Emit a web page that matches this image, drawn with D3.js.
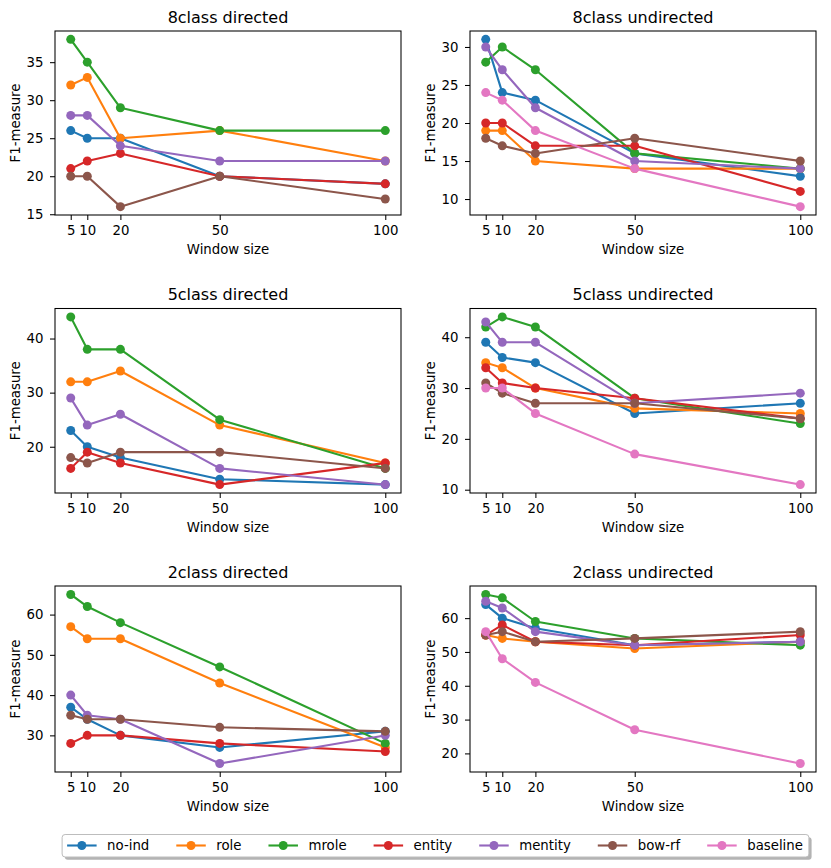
<!DOCTYPE html>
<html>
<head>
<meta charset="utf-8">
<script src="https://cdn.jsdelivr.net/npm/d3@7"></script>
<style>
  html, body { margin: 0; padding: 0; background: #fff; }
  svg { display: block; font-family: "DejaVu Sans", sans-serif; }
</style>
</head>
<body>
<svg id="chart" width="831" height="868"></svg>
<script>
// ---------------- DATA ----------------
const windowSizes = [5, 10, 20, 50, 100];
const xTickLabels = ["5", "10", "20", "50", "100"];
const seriesNames = ["no-ind", "role", "mrole", "entity", "mentity", "bow-rf", "baseline"];
const seriesColors = ["#1f77b4", "#ff7f0e", "#2ca02c", "#d62728", "#9467bd", "#8c564b", "#e377c2"];
const panelTitles = ["8class directed", "8class undirected", "5class directed", "5class undirected", "2class directed", "2class undirected"];

// series order: no-ind, role, mrole, entity, mentity, bow-rf, baseline (null = not present)
const class8Directed = [
  [26, 25, 25, 20, 19],
  [32, 33, 25, 26, 22],
  [38, 35, 29, 26, 26],
  [21, 22, 23, 20, 19],
  [28, 28, 24, 22, 22],
  [20, 20, 16, 20, 17],
  null
];
const class8Undirected = [
  [31, 24, 23, 16, 13],
  [19, 19, 15, 14, 14],
  [28, 30, 27, 16, 14],
  [20, 20, 17, 17, 11],
  [30, 27, 22, 15, 14],
  [18, 17, 16, 18, 15],
  [24, 23, 19, 14, 9]
];
const class5Directed = [
  [23, 20, 18, 14, 13],
  [32, 32, 34, 24, 17],
  [44, 38, 38, 25, 16],
  [16, 19, 17, 13, 17],
  [29, 24, 26, 16, 13],
  [18, 17, 19, 19, 16],
  null
];
const class5Undirected = [
  [39, 36, 35, 25, 27],
  [35, 34, 30, 26, 25],
  [42, 44, 42, 28, 23],
  [34, 31, 30, 28, 24],
  [43, 39, 39, 27, 29],
  [31, 29, 27, 27, 24],
  [30, 30, 25, 17, 11]
];
const class2Directed = [
  [37, 34, 30, 27, 31],
  [57, 54, 54, 43, 27],
  [65, 62, 58, 47, 28],
  [28, 30, 30, 28, 26],
  [40, 35, 34, 23, 30],
  [35, 34, 34, 32, 31],
  null
];
const class2Undirected = [
  [64, 60, 57, 52, 53],
  [55, 54, 53, 51, 53],
  [67, 66, 59, 54, 52],
  [55, 58, 53, 52, 55],
  [65, 63, 56, 52, 53],
  [55, 56, 53, 54, 56],
  [56, 48, 41, 27, 17]
];
const panelData = [class8Directed, class8Undirected, class5Directed, class5Undirected, class2Directed, class2Undirected];

const yTicks8Directed = [15, 20, 25, 30, 35];
const yTicks8Undirected = [10, 15, 20, 25, 30];
const yTicks5Directed = [20, 30, 40];
const yTicks5Undirected = [10, 20, 30, 40];
const yTicks2Directed = [30, 40, 50, 60];
const yTicks2Undirected = [20, 30, 40, 50, 60];
const panelYTicks = [yTicks8Directed, yTicks8Undirected, yTicks5Directed, yTicks5Undirected, yTicks2Directed, yTicks2Undirected];

const xLabel = "Window size";
const yLabel = "F1-measure";

// ---------------- LAYOUT ----------------
const svg = d3.select("#chart");
const colX = [[55, 401], [470, 816]];
const rowY = [[31, 215], [308.5, 493], [586, 772]];
const tickFont = 13.3, titleFont = 16;
const markerR = 4.5, lineW = 2.1;

function pad(ext) {
  const r = ext[1] - ext[0];
  return [ext[0] - 0.05 * r, ext[1] + 0.05 * r];
}

panelData.forEach((data, i) => {
  const col = i % 2, row = Math.floor(i / 2);
  const [x0, x1] = colX[col];
  const [y0, y1] = rowY[row];

  const xs = d3.scaleLinear().domain(pad(d3.extent(windowSizes))).range([x0, x1]);
  const allVals = data.filter(d => d).flat();
  const ys = d3.scaleLinear().domain(pad(d3.extent(allVals))).range([y1, y0]);

  const g = svg.append("g");

  // x axis
  const xAxis = d3.axisBottom(xs).tickValues(windowSizes)
    .tickFormat((d, k) => xTickLabels[k]).tickSize(5).tickPadding(6);
  const gx = g.append("g").attr("transform", `translate(0,${y1})`).call(xAxis);
  gx.select(".domain").remove();
  gx.selectAll("text").attr("font-size", tickFont).attr("font-family", "DejaVu Sans").attr("fill", "#000");
  gx.selectAll("line").attr("stroke", "#000").attr("stroke-width", 1.05);

  // y axis
  const yAxis = d3.axisLeft(ys).tickValues(panelYTicks[i]).tickFormat(d3.format("d")).tickSize(5).tickPadding(6.5);
  const gy = g.append("g").attr("transform", `translate(${x0},0)`).call(yAxis);
  gy.select(".domain").remove();
  gy.selectAll("text").attr("font-size", tickFont).attr("font-family", "DejaVu Sans").attr("fill", "#000");
  gy.selectAll("line").attr("stroke", "#000").attr("stroke-width", 1.05);

  const plot = g.append("g");
  const line = d3.line().x((d, k) => xs(windowSizes[k])).y(d => ys(d));
  data.forEach((vals, s) => {
    if (!vals) return;
    plot.append("path").datum(vals)
      .attr("d", line).attr("fill", "none")
      .attr("stroke", seriesColors[s]).attr("stroke-width", lineW)
      .attr("stroke-linejoin", "round").attr("stroke-linecap", "square");
    plot.selectAll(null).data(vals).enter().append("circle")
      .attr("cx", (d, k) => xs(windowSizes[k])).attr("cy", d => ys(d))
      .attr("r", markerR).attr("fill", seriesColors[s]);
  });

  // frame
  g.append("rect").attr("x", x0).attr("y", y0).attr("width", x1 - x0).attr("height", y1 - y0)
    .attr("fill", "none").attr("stroke", "#000").attr("stroke-width", 1.05);

  // title
  g.append("text").attr("x", (x0 + x1) / 2).attr("y", y0 - 8.5)
    .attr("text-anchor", "middle").attr("font-size", titleFont).text(panelTitles[i]);
  // x label
  g.append("text").attr("x", (x0 + x1) / 2).attr("y", y1 + 38.5)
    .attr("text-anchor", "middle").attr("font-size", tickFont).text(xLabel);
  // y label
  g.append("text").attr("transform", `translate(${x0 - 35.5},${(y0 + y1) / 2}) rotate(-90)`)
    .attr("text-anchor", "middle").attr("font-size", tickFont).text(yLabel);
});

// ---------------- LEGEND ----------------
const leg = svg.append("g");
const legY = 845.5;
const handleLen = 29.5, textPad = 10.5, colGap = 27;
const shadowG = leg.append("g");
const itemsG = leg.append("g");
let cx = 0;
seriesNames.forEach((name, s) => {
  const it = itemsG.append("g");
  it.append("line").attr("x1", cx).attr("x2", cx + handleLen).attr("y1", legY).attr("y2", legY)
    .attr("stroke", seriesColors[s]).attr("stroke-width", lineW);
  it.append("circle").attr("cx", cx + handleLen / 2).attr("cy", legY).attr("r", markerR).attr("fill", seriesColors[s]);
  const t = it.append("text").attr("x", cx + handleLen + textPad).attr("y", legY + 4.7)
    .attr("font-size", tickFont).text(name);
  const w = t.node().getComputedTextLength();
  cx += handleLen + textPad + w + colGap;
});
const contentW = cx - colGap;
const boxPadL = 5, boxPadR = 6;
const boxW = contentW + boxPadL + boxPadR;
const centerX = (colX[0][0] + colX[1][1]) / 2;
const boxX = centerX - boxW / 2;
itemsG.attr("transform", `translate(${boxX + boxPadL},0)`);
const boxY = 834.5, boxH = 22.5;
shadowG.append("rect").attr("x", boxX + 2.7).attr("y", boxY + 2.7).attr("width", boxW).attr("height", boxH)
  .attr("rx", 3).attr("fill", "#808080").attr("opacity", 0.6);
shadowG.append("rect").attr("x", boxX).attr("y", boxY).attr("width", boxW).attr("height", boxH)
  .attr("rx", 3).attr("fill", "#fff").attr("stroke", "#bdbdbd").attr("stroke-width", 1);
</script>
</body>
</html>
